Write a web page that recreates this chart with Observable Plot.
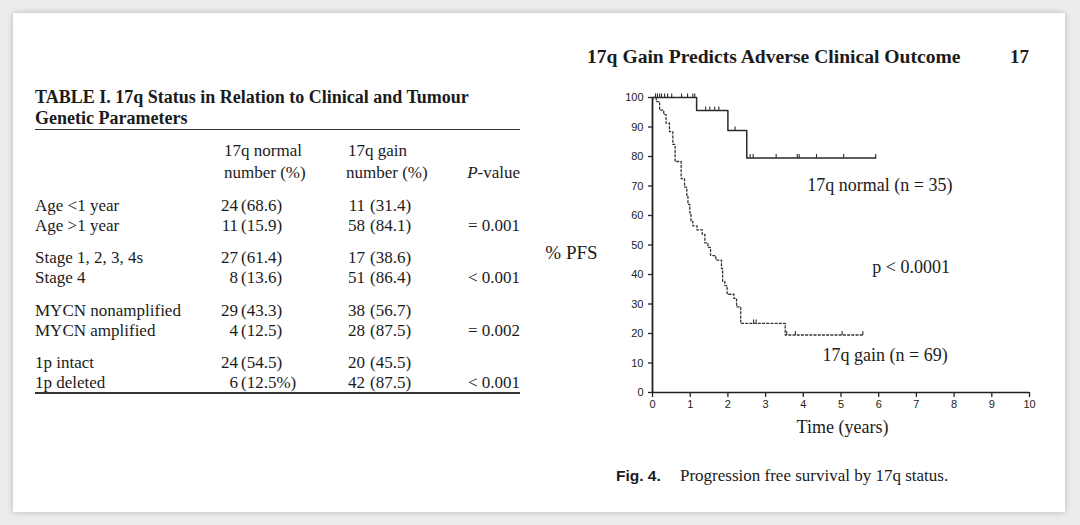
<!DOCTYPE html>
<html><head><meta charset="utf-8">
<script src="https://cdn.jsdelivr.net/npm/d3@7"></script>
<script src="https://cdn.jsdelivr.net/npm/@observablehq/plot@0.6"></script>
<style>
  html,body{margin:0;padding:0;background:#ececec;}
  #page{position:relative;width:1080px;height:525px;overflow:hidden;font-family:"Liberation Serif","Times New Roman",serif;color:#1b1b1b;}
  #panel{position:absolute;left:13px;top:13px;width:1052px;height:499px;background:#fff;box-shadow:0 0 6px rgba(0,0,0,0.22);}
  .t{position:absolute;white-space:nowrap;line-height:20px;height:20px;}
  .rule{position:absolute;background:#333;}
  #chart{position:absolute;left:530px;top:80px;}
</style></head>
<body>
<div id="page"><div id="panel"></div><div id="chart"></div></div>
<script>
// ---- Table data ----
const tableTitle = ["TABLE I. 17q Status in Relation to Clinical and Tumour", "Genetic Parameters"];
const colHeads = [["17q normal", "number (%)"], ["17q gain", "number (%)"], ["P-value"]];
const rowLabels = ["Age <1 year","Age >1 year","Stage 1, 2, 3, 4s","Stage 4","MYCN nonamplified","MYCN amplified","1p intact","1p deleted"];
const normalN = ["24","11","27","8","29","4","24","6"];
const normalPct = ["(68.6)","(15.9)","(61.4)","(13.6)","(43.3)","(12.5)","(54.5)","(12.5%)"];
const gainN = ["11","58","17","51","38","28","20","42"];
const gainPct = ["(31.4)","(84.1)","(38.6)","(86.4)","(56.7)","(87.5)","(45.5)","(87.5)"];
const pValues = ["","= 0.001","","< 0.001","","= 0.002","","< 0.001"];

// ---- Figure data (Kaplan-Meier) ----
const normalTime = [0, 1.17, 2.0, 2.5, 5.92];
const normalSurv = [100, 95.6, 88.8, 79.5, 79.5];
const normalCensor = [0.08,0.13,0.19,0.24,0.32,0.4,0.51,0.77,0.93,1.07,1.12,1.41,1.52,1.65,1.76,2.19,2.59,2.67,3.28,3.84,3.89,4.35,5.07,5.92];
const gainTime = [0,0.1,0.19,0.3,0.36,0.45,0.54,0.6,0.76,0.85,0.91,0.94,0.99,1.02,1.07,1.18,1.32,1.39,1.47,1.54,1.68,1.83,1.86,1.92,1.98,2.16,2.23,2.34,3.52,5.61];
const gainSurv = [100,98.6,95.7,94.2,91.3,88.4,84.1,78.3,72.5,69.6,66.7,63.8,60.9,58.0,56.5,55.1,53.6,50.7,49.2,46.4,44.9,42.0,37.7,36.2,33.3,31.9,29.0,23.4,19.5,19.5];
const gainCensor = [2.68,2.75,3.56,3.79,5.03,5.58];
const xTicks = [0,1,2,3,4,5,6,7,8,9,10];
const yTicks = [0,10,20,30,40,50,60,70,80,90,100];
const annotations = [
  {t: 6.03, s: 70.2, label: "17q normal (n = 35)"},
  {t: 6.86, s: 42.4, label: "p < 0.0001"},
  {t: 6.17, s: 12.5, label: "17q gain (n = 69)"}
];
const pageTitle = "17q Gain Predicts Adverse Clinical Outcome";
const pageNumber = "17";
const figLabel = "Fig. 4.";
const figCaption = "Progression free survival by 17q status.";

// ---- HTML text ----
const page = document.getElementById("page");
function put(text, {left, right, cy, size = 17, weight = "normal", style = "normal", family = null}) {
  const d = document.createElement("div");
  d.className = "t";
  d.textContent = text;
  d.style.fontSize = size + "px";
  d.style.fontWeight = weight;
  d.style.fontStyle = style;
  if (family) d.style.fontFamily = family;
  d.style.top = (cy - 10) + "px";
  if (right != null) { d.style.right = (1080 - right) + "px"; d.style.textAlign = "right"; }
  else d.style.left = left + "px";
  page.appendChild(d);
  return d;
}
function rule(x1, x2, y, h) {
  const r = document.createElement("div");
  r.className = "rule";
  r.style.left = x1 + "px"; r.style.width = (x2 - x1) + "px";
  r.style.top = y + "px"; r.style.height = h + "px";
  page.appendChild(r);
}
put(tableTitle[0], {left: 35, cy: 97, size: 18, weight: "bold"});
put(tableTitle[1], {left: 35, cy: 118, size: 18, weight: "bold"});
rule(35, 520, 129, 1.3);
put(colHeads[0][0], {left: 224, cy: 151});
put(colHeads[0][1], {left: 224, cy: 173});
put(colHeads[1][0], {left: 348, cy: 151});
put(colHeads[1][1], {left: 346, cy: 173});
const pv = put("", {right: 520, cy: 173});
pv.innerHTML = "<i>P</i>-value";
rowLabels.forEach((lab, i) => {
  const cy = 206 + Math.floor(i / 2) * 52.3 + (i % 2) * 20;
  put(lab, {left: 35, cy});
  put(normalN[i], {right: 238, cy});
  put(normalPct[i], {left: 241, cy});
  put(gainN[i], {right: 365, cy});
  put(gainPct[i], {left: 370, cy});
  if (pValues[i]) put(pValues[i], {right: 520, cy});
});
rule(35, 520, 392, 1.6);

put(pageTitle, {left: 587, cy: 57, size: 19.6, weight: "bold"});
put(pageNumber, {right: 1029, cy: 57, size: 19, weight: "bold"});
put(figLabel, {left: 616, cy: 476, size: 15.5, weight: "bold", family: "'Liberation Sans', Arial, sans-serif"});
put(figCaption, {left: 680, cy: 476, size: 17});

// ---- Plot ----
const normal = normalTime.map((t, i) => ({t, s: normalSurv[i]}));
const gain = gainTime.map((t, i) => ({t, s: gainSurv[i]}));
function survAt(steps, t) { let s = steps[0].s; for (const d of steps) if (d.t <= t) s = d.s; return s; }
const normalC = normalCensor.map(t => ({t, s: survAt(normal, t)}));
const gainC = gainCensor.map(t => ({t, s: survAt(gain, t)}));
const tickUp = {draw(ctx, size) { const h = Math.sqrt(size / Math.PI); ctx.moveTo(0, 0); ctx.lineTo(0, -h); }};

const serif = "'Liberation Serif','Times New Roman',serif";
const plot = Plot.plot({
  width: 520, height: 420,
  marginLeft: 122, marginRight: 21, marginTop: 17, marginBottom: 108,
  style: {fontFamily: "'Liberation Sans', Arial, sans-serif", color: "#222", background: "transparent"},
  x: {domain: [0, 10]},
  y: {domain: [0, 100]},
  marks: [
    Plot.axisY({ticks: yTicks, tickSize: 4, tickPadding: 5, fontSize: 11, label: null, strokeWidth: 1.3}),
    Plot.axisX({ticks: xTicks, tickSize: 5, tickPadding: 3, fontSize: 11, label: null, strokeWidth: 1.3}),
    Plot.ruleX([0], {y1: 0, y2: 100, stroke: "#222", strokeWidth: 1.8}),
    Plot.ruleY([0], {x1: 0, x2: 10, stroke: "#222", strokeWidth: 1.6}),
    Plot.line(normal, {x: "t", y: "s", curve: "step-after", stroke: "#2a2a2a", strokeWidth: 1.5}),
    Plot.dot(normalC, {x: "t", y: "s", symbol: tickUp, r: 4, stroke: "#2a2a2a", strokeWidth: 1.1, fill: "none"}),
    Plot.line(gain, {x: "t", y: "s", curve: "step-after", stroke: "#333", strokeWidth: 1.3, strokeDasharray: "2,2.2"}),
    Plot.dot(gainC, {x: "t", y: "s", symbol: tickUp, r: 4, stroke: "#333", strokeWidth: 1.1, fill: "none"}),
    Plot.text(annotations, {x: "t", y: "s", text: "label", fontSize: 18, fontFamily: serif, fill: "#1b1b1b"}),
    Plot.text(["% PFS"], {frameAnchor: "left", textAnchor: "middle", dx: -81, dy: 7.5, fontSize: 19, fontFamily: serif, fill: "#1b1b1b"}),
    Plot.text(["Time (years)"], {frameAnchor: "bottom", dx: 1.5, dy: 40, fontSize: 18, fontFamily: serif, fill: "#1b1b1b"})
  ]
});
document.getElementById("chart").appendChild(plot);
</script>
</body></html>
